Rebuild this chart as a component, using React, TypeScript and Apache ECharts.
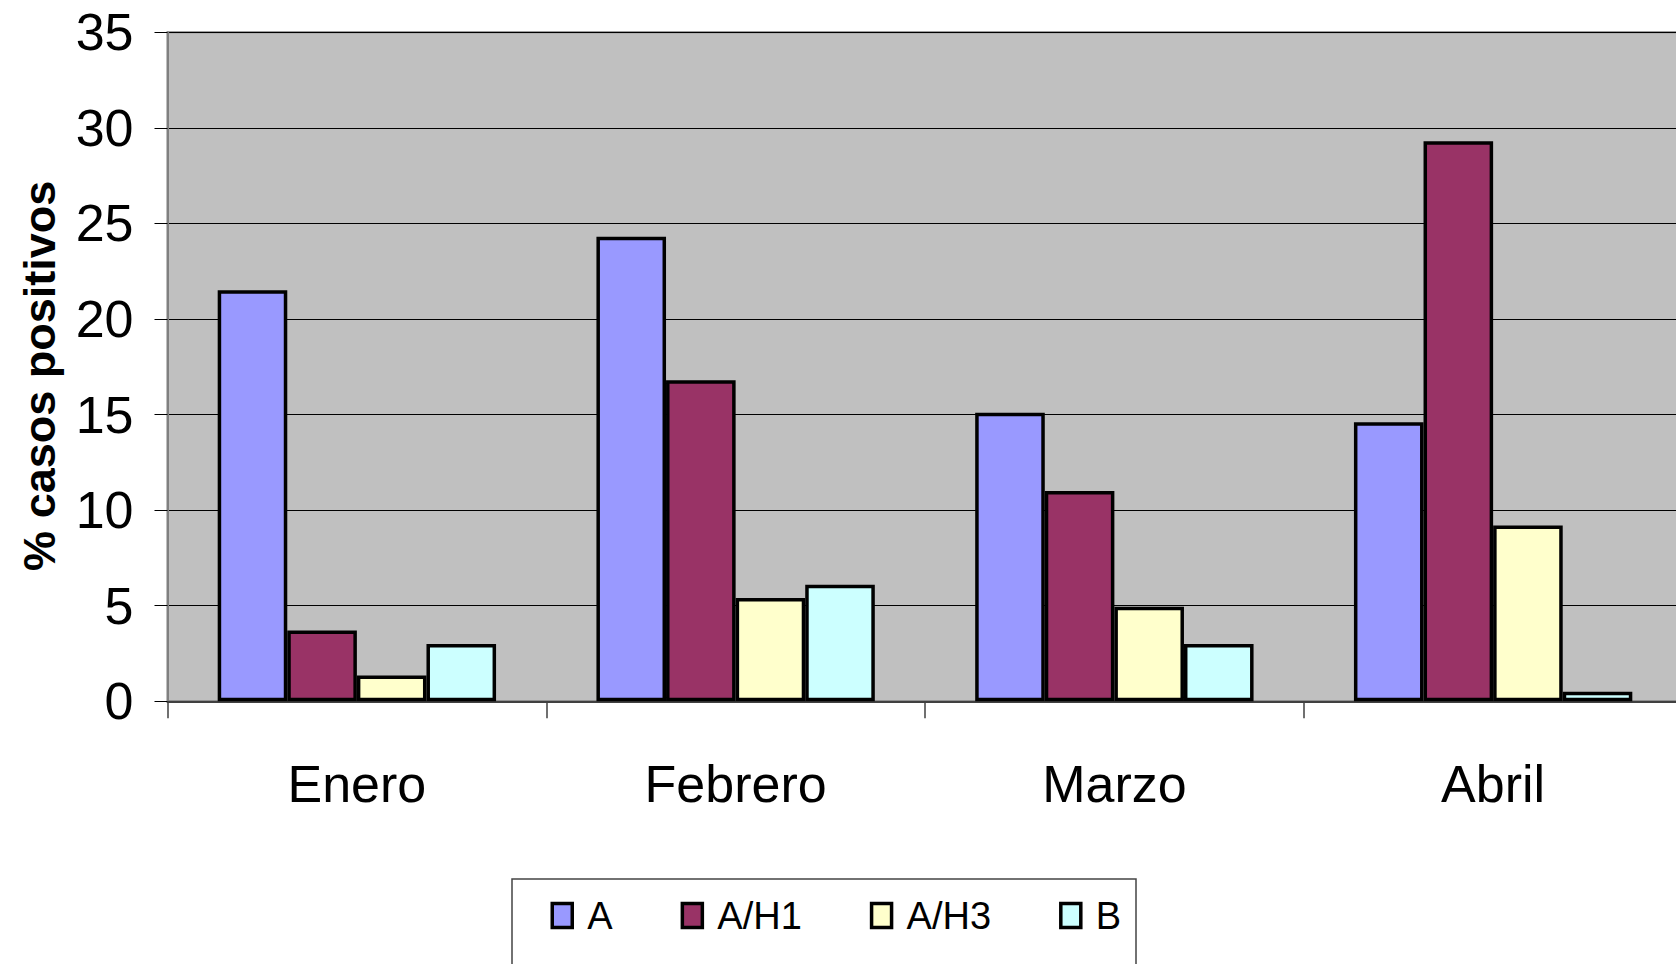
import React, { useEffect, useRef } from "react";
import * as echarts from "echarts";

const categories = ["Enero", "Febrero", "Marzo", "Abril"];
const seriesNames = ["A", "A/H1", "A/H3", "B"];
const valuesA = [21.5, 24.3, 15.1, 14.6];
const valuesAH1 = [3.7, 16.8, 11.0, 29.3];
const valuesAH3 = [1.35, 5.4, 4.95, 9.2];
const valuesB = [3.0, 6.1, 3.0, 0.5];
const seriesColors = ["#9999ff", "#993366", "#ffffcc", "#ccffff"];
const yTicks = { min: 0, max: 35, interval: 5 };
const yTitle = "% casos positivos";

export default function App() {
  const ref = useRef<HTMLDivElement>(null);
  useEffect(() => {
    if (!ref.current) return;
    const chart = echarts.init(ref.current, null, { renderer: "svg" });
    const data = [valuesA, valuesAH1, valuesAH3, valuesB];
    chart.setOption({
      animation: false,
      backgroundColor: "#ffffff",
      grid: {
        left: 167.5,
        top: 32.3,
        height: 669,
        width: 1515,
        show: true,
        backgroundColor: "#c0c0c0",
        borderColor: "#808080",
        borderWidth: 2,
        containLabel: false,
      },
      legend: {
        left: 550.5,
        top: 896.5,
        padding: 0,
        itemWidth: 20,
        itemHeight: 24,
        itemGap: 68,
        icon: "rect",
        data: seriesNames,
        itemStyle: { borderColor: "#000", borderWidth: 3.5 },
        textStyle: {
          fontFamily: "Liberation Sans",
          fontSize: 38,
          color: "#000",
          padding: [0, 0, 0, 10],
        },
      },
      graphic: [
        {
          type: "rect",
          z: 0,
          shape: { x: 512, y: 879, width: 624, height: 120 },
          style: { fill: "transparent", stroke: "#444", lineWidth: 1.5 },
        },
      ],
      xAxis: {
        type: "category",
        data: categories,
        axisLine: { show: true, lineStyle: { color: "#404040", width: 2 } },
        axisTick: { show: true, length: 17, lineStyle: { color: "#404040", width: 1.5 } },
        axisLabel: {
          fontFamily: "Liberation Sans",
          fontSize: 52,
          color: "#000",
          margin: 57,
        },
        splitLine: { show: false },
      },
      yAxis: {
        type: "value",
        min: yTicks.min,
        max: yTicks.max,
        interval: yTicks.interval,
        name: yTitle,
        nameLocation: "middle",
        nameRotate: 90,
        nameGap: 106,
        nameTextStyle: {
          fontFamily: "Liberation Sans",
          fontWeight: "bold",
          fontSize: 45,
          color: "#000",
          padding: [0, 18, 0, 0],
        },
        axisLine: { show: true, lineStyle: { color: "#808080", width: 2 } },
        axisTick: { show: true, length: 13, lineStyle: { color: "#000", width: 1 } },
        axisLabel: {
          fontFamily: "Liberation Sans",
          fontSize: 52,
          color: "#000",
          margin: 34,
        },
        splitLine: { show: true, lineStyle: { color: "#000", width: 1 } },
      },
      series: seriesNames.map((name, i) => ({
        name,
        type: "bar",
        data: data[i],
        barGap: "0%",
        barCategoryGap: "26.5%",
        itemStyle: {
          color: seriesColors[i],
          borderColor: "#000",
          borderWidth: 3.5,
        },
      })),
    });
    return () => chart.dispose();
  }, []);
  return (
    <div style={{ position: "fixed", left: 0, top: 0, width: 1676, height: 964, overflow: "hidden" }}>
      <div ref={ref} style={{ width: 1700, height: 964 }} />
    </div>
  );
}
